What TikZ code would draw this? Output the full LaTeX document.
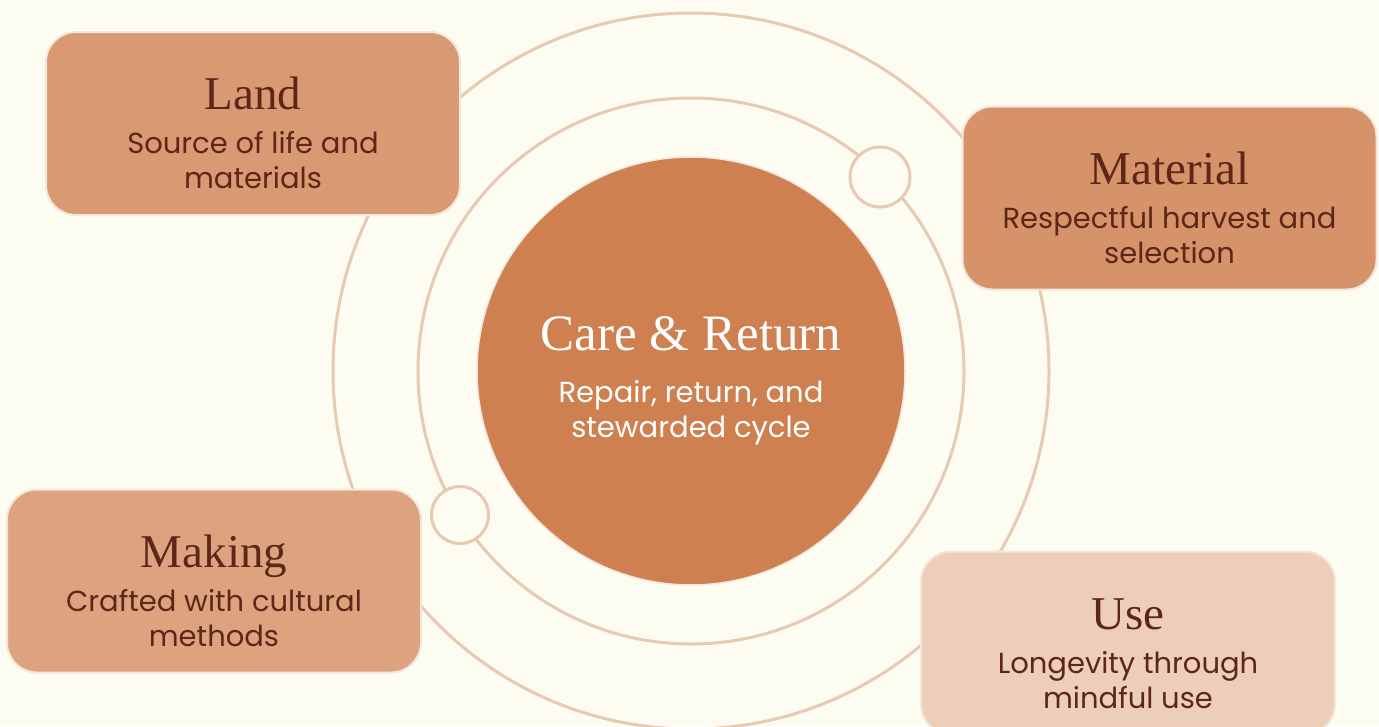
\documentclass[tikz,border=0pt]{standalone}
\usepackage{fontspec}
\usepackage{xcolor}
\setmainfont{Liberation Serif}
\newfontfamily\subfont{Poppins}
\definecolor{creambg}{RGB}{252,252,240}
\definecolor{ringtan}{RGB}{232,201,178}
\definecolor{clayorange}{RGB}{207,128,80}
\definecolor{landclay}{RGB}{217,153,114}
\definecolor{materialclay}{RGB}{214,146,104}
\definecolor{makingclay}{RGB}{221,163,126}
\definecolor{useclay}{RGB}{237,206,185}
\definecolor{barkbrown}{RGB}{94,38,24}
\definecolor{edgecream}{RGB}{243,230,220}

\tikzset{
  stagebox/.style={draw=edgecream, line width=2pt, rounded corners=30pt,
    minimum width=414pt, minimum height=183pt},
  stagetitle/.style={barkbrown, anchor=base, font=\fontsize{47}{52}\selectfont},
  stagetext/.style={barkbrown, anchor=base, align=center, font=\subfont\fontsize{29}{35}\selectfont},
  knot/.style={circle, draw=ringtan, line width=3pt, fill=creambg, minimum size=60pt}
}

\begin{document}
\begin{tikzpicture}[x=1pt, y=-1pt]
    % Background
    \fill[creambg] (0,0) rectangle (1379,726);
    \useasboundingbox (0,0) rectangle (1379,726);

    % Centre circle
    \node[circle, fill=clayorange, draw=edgecream, line width=1.5pt, minimum size=428pt] (care) at (691,371) {};

    % Rings
    \draw[ringtan, line width=3pt] (care.center) circle (273);
    \draw[ringtan, line width=3pt] (care.center) circle (358);

    % Knots on the inner ring
    \node[knot] (knotup) at (880,177) {};
    \node[knot, minimum size=57pt] (knotdown) at (460,515) {};

    % Centre text (base = last line)
    \node[white, anchor=base, font=\fontsize{51}{56}\selectfont] (caretitle) at ([yshift=21pt]care.center) {Care \& Return};
    \node[white, anchor=base, align=center, font=\subfont\fontsize{29}{35}\selectfont] (caretext) at ([yshift=-66pt]care.center) {Repair, return, and\\stewarded cycle};

    % Stage boxes
    \node[stagebox, fill=landclay] (land) at (253,123.5) {};
    \node[stagetitle] (landtitle) at ([yshift=14pt]land.center) {Land};
    \node[stagetext] (landtext) at ([yshift=-65pt]land.center) {Source of life and\\materials};

    \node[stagebox, fill=materialclay] (material) at (1169.5,198) {};
    \node[stagetitle] (materialtitle) at ([yshift=14pt]material.center) {Material};
    \node[stagetext] (materialtext) at ([yshift=-65pt]material.center) {Respectful harvest and\\selection};

    \node[stagebox, fill=makingclay] (making) at (214,581) {};
    \node[stagetitle] (makingtitle) at ([yshift=14pt]making.center) {Making};
    \node[stagetext] (makingtext) at ([yshift=-65pt]making.center) {Crafted with cultural\\methods};

    \node[stagebox, fill=useclay] (use) at (1128,643) {};
    \node[stagetitle] (usetitle) at ([yshift=14pt]use.center) {Use};
    \node[stagetext] (usetext) at ([yshift=-65pt]use.center) {Longevity through\\mindful use};
\end{tikzpicture}
\end{document}
